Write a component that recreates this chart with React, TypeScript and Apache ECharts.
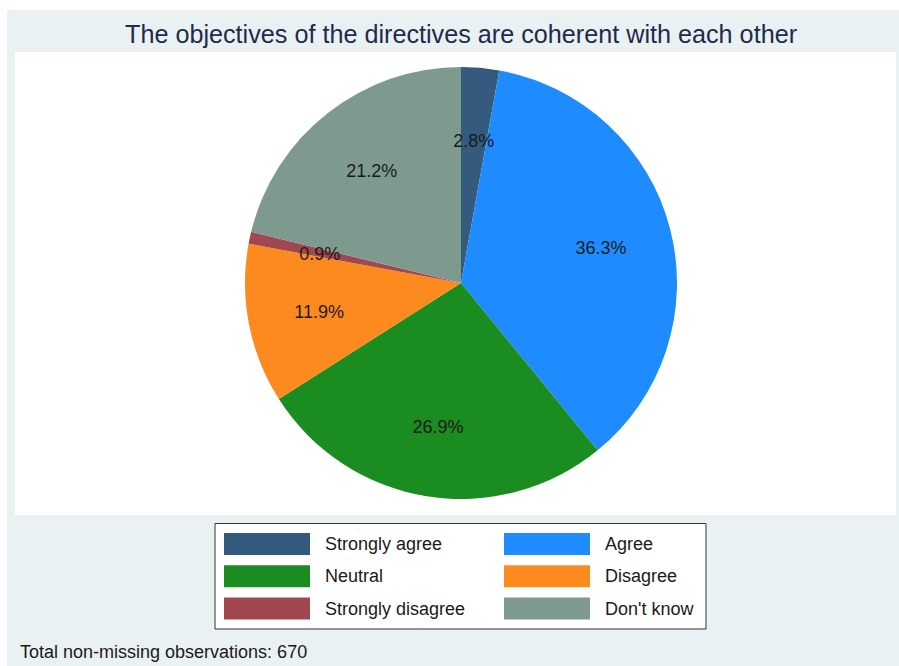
import React, { useEffect, useRef } from "react";
import * as echarts from "echarts";

const categories = ["Strongly agree", "Agree", "Neutral", "Disagree", "Strongly disagree", "Don't know"];
const counts = [19, 243, 180, 80, 6, 142];
const colors = ["#345A7E", "#1E8CFF", "#1B8C1F", "#FD8A1E", "#A0474F", "#7E9A8F"];
const legendLeft = ["Strongly agree", "Neutral", "Strongly disagree"];
const legendRight = ["Agree", "Disagree", "Don't know"];
const titleText = "The objectives of the directives are coherent with each other";
const noteText = "Total non-missing observations: 670";

export default function App() {
  const ref = useRef<HTMLDivElement>(null);
  useEffect(() => {
    document.body.style.margin = "0";
    const chart = echarts.init(ref.current!, null, { renderer: "svg" });
    const total = counts.reduce((a, b) => a + b, 0);
    const data = categories.map((name, i) => ({ name, value: counts[i], itemStyle: { color: colors[i] } }));
    const font = "Liberation Sans, Arial, sans-serif";
    const legendCommon = {
      orient: "vertical" as const,
      top: 533,
      padding: 0,
      itemWidth: 86,
      itemHeight: 22,
      itemGap: 10.3,
      icon: "rect",
      selectedMode: false,
      textStyle: { fontSize: 18, color: "#1a1a1a", fontFamily: font, padding: [0, 0, 0, 10] },
    };
    chart.setOption({
      animation: false,
      backgroundColor: "#ffffff",
      graphic: [
        { type: "rect", z: -10, shape: { x: 7, y: 10, width: 892, height: 656 }, style: { fill: "#EAF1F3" }, silent: true },
        { type: "rect", z: -9, shape: { x: 15, y: 52, width: 881, height: 463 }, style: { fill: "#ffffff" }, silent: true },
        { type: "rect", z: -8, shape: { x: 215, y: 523.5, width: 491, height: 105.5 }, style: { fill: "#ffffff", stroke: "#333333", lineWidth: 1 }, silent: true },
        { type: "text", left: 20, top: 643, style: { text: noteText, font: `18px ${font}`, fill: "#1a1a1a" }, silent: true },
      ],
      title: {
        text: titleText,
        left: 125,
        top: 21,
        padding: 0,
        textStyle: { fontSize: 25.2, fontWeight: "normal", color: "#1E2B4C", fontFamily: font },
      },
      legend: [
        { ...legendCommon, left: 224, data: legendLeft },
        { ...legendCommon, left: 504, data: legendRight },
      ],
      series: [
        {
          type: "pie",
          center: [461, 283],
          radius: [0, 216],
          startAngle: 90,
          clockwise: true,
          data,
          label: { show: false },
          labelLine: { show: false },
          itemStyle: { borderWidth: 0 },
          emphasis: { disabled: true },
          silent: true,
        },
        {
          type: "pie",
          center: [461, 283],
          radius: [67, 216],
          startAngle: 90,
          clockwise: true,
          data: categories.map((name, i) => ({ name, value: counts[i] })),
          itemStyle: { color: "rgba(0,0,0,0)", borderWidth: 0 },
          label: {
            show: true,
            position: "inside",
            formatter: (p: any) => ((p.value / total) * 100).toFixed(1) + "%",
            fontSize: 18,
            color: "#1a1a1a",
            fontFamily: font,
            offset: [0, 1.5],
          },
          labelLine: { show: false },
          emphasis: { disabled: true },
          silent: true,
          z: 3,
        },
      ],
    });
    return () => chart.dispose();
  }, []);
  return <div ref={ref} style={{ width: 899, height: 666 }} />;
}
